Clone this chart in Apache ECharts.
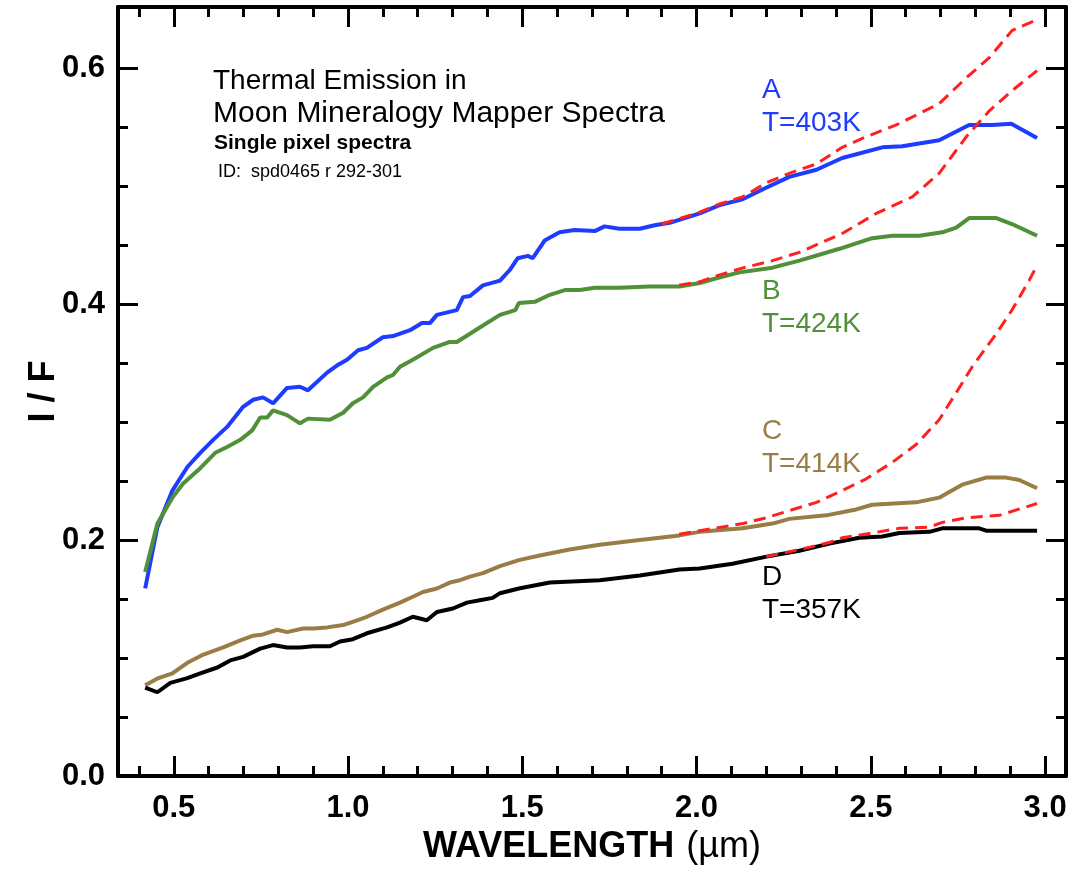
<!DOCTYPE html>
<html>
<head>
<meta charset="utf-8">
<script src="https://cdn.jsdelivr.net/npm/echarts@6/dist/echarts.min.js"></script>
<style>
  html, body { margin: 0; padding: 0; background: #fff; }
  #chart { width: 1076px; height: 877px; }
</style>
</head>
<body>
<div id="chart"></div>
<script>
// tick positions
const xMajor = [0.5, 1.0, 1.5, 2.0, 2.5, 3.0];
const xMinor = [0.4, 0.6, 0.7, 0.8, 0.9, 1.1, 1.2, 1.3, 1.4, 1.6, 1.7, 1.8, 1.9,
                2.1, 2.2, 2.3, 2.4, 2.6, 2.7, 2.8, 2.9];
const yMajor = [0.0, 0.2, 0.4, 0.6];
const yMinor = [0.05, 0.1, 0.15, 0.25, 0.3, 0.35, 0.45, 0.5, 0.55];

// spectra: [wavelength um, I/F]
const specA = [[0.418,0.159],[0.453,0.211],[0.496,0.242],[0.539,0.262],[0.576,0.274],[0.613,0.285],[0.653,0.296],
  [0.699,0.313],[0.728,0.319],[0.756,0.321],[0.785,0.316],[0.825,0.329],[0.862,0.330],[0.885,0.327],[0.940,0.342],
  [0.968,0.348],[0.997,0.353],[1.029,0.361],[1.054,0.363],[1.100,0.372],[1.129,0.373],[1.178,0.378],[1.212,0.384],
  [1.235,0.384],[1.255,0.391],[1.312,0.395],[1.330,0.406],[1.350,0.407],[1.387,0.416],[1.436,0.420],[1.464,0.429],
  [1.487,0.439],[1.516,0.441],[1.530,0.439],[1.564,0.454],[1.607,0.461],[1.650,0.463],[1.708,0.462],[1.736,0.466],
  [1.779,0.464],[1.837,0.464],[1.880,0.467],[1.923,0.469],[1.966,0.473],[2.009,0.477],[2.066,0.484],[2.132,0.489],
  [2.201,0.499],[2.266,0.508],[2.344,0.514],[2.418,0.524],[2.533,0.533],[2.590,0.534],[2.696,0.539],[2.782,0.552],
  [2.848,0.552],[2.903,0.553],[2.977,0.541]];
const specB = [[0.418,0.173],[0.453,0.214],[0.496,0.236],[0.527,0.248],[0.576,0.261],[0.619,0.274],[0.653,0.279],
  [0.691,0.285],[0.725,0.293],[0.748,0.304],[0.768,0.304],[0.785,0.310],[0.825,0.306],[0.862,0.299],[0.885,0.303],
  [0.948,0.302],[0.986,0.308],[1.014,0.316],[1.043,0.321],[1.072,0.330],[1.112,0.338],[1.129,0.340],[1.149,0.347],
  [1.186,0.353],[1.244,0.363],[1.292,0.368],[1.312,0.368],[1.350,0.375],[1.387,0.382],[1.436,0.391],[1.480,0.395],
  [1.490,0.401],[1.536,0.402],[1.579,0.408],[1.622,0.412],[1.665,0.412],[1.708,0.414],[1.779,0.414],[1.865,0.415],
  [1.951,0.415],[2.009,0.418],[2.057,0.422],[2.123,0.427],[2.218,0.431],[2.295,0.437],[2.410,0.447],[2.504,0.456],
  [2.562,0.458],[2.639,0.458],[2.705,0.461],[2.745,0.465],[2.782,0.473],[2.860,0.473],[2.905,0.468],[2.977,0.458]];
const specC = [[0.418,0.077],[0.456,0.083],[0.496,0.087],[0.539,0.096],[0.585,0.103],[0.642,0.109],[0.691,0.115],
  [0.728,0.119],[0.756,0.120],[0.797,0.124],[0.825,0.122],[0.871,0.125],[0.900,0.125],[0.940,0.126],[0.986,0.128],
  [1.026,0.132],[1.054,0.135],[1.100,0.141],[1.149,0.147],[1.186,0.152],[1.215,0.156],[1.255,0.159],[1.292,0.164],
  [1.321,0.166],[1.350,0.169],[1.387,0.172],[1.436,0.178],[1.490,0.183],[1.550,0.187],[1.636,0.192],[1.722,0.196],
  [1.837,0.200],[1.951,0.204],[2.009,0.207],[2.132,0.210],[2.218,0.214],[2.266,0.218],[2.372,0.221],[2.458,0.226],
  [2.504,0.230],[2.630,0.232],[2.696,0.236],[2.762,0.247],[2.831,0.253],[2.888,0.253],[2.926,0.251],[2.977,0.244]];
const specD = [[0.418,0.075],[0.453,0.071],[0.490,0.079],[0.539,0.083],[0.576,0.087],[0.625,0.092],[0.662,0.098],
  [0.699,0.101],[0.748,0.108],[0.785,0.111],[0.825,0.109],[0.862,0.109],[0.900,0.110],[0.948,0.110],[0.977,0.114],
  [1.014,0.116],[1.054,0.121],[1.112,0.126],[1.149,0.130],[1.186,0.135],[1.226,0.132],[1.255,0.139],[1.301,0.142],
  [1.341,0.147],[1.378,0.149],[1.415,0.151],[1.436,0.155],[1.490,0.159],[1.579,0.164],[1.722,0.166],[1.837,0.170],
  [1.951,0.175],[2.009,0.176],[2.103,0.180],[2.201,0.186],[2.295,0.191],[2.381,0.197],[2.467,0.202],[2.533,0.203],
  [2.582,0.206],[2.668,0.207],[2.705,0.210],[2.811,0.210],[2.831,0.208],[2.977,0.208]];

// model fits (red dashed)
const fitA = [[1.900,0.468],[1.966,0.474],[2.009,0.478],[2.066,0.485],[2.132,0.491],[2.201,0.503],[2.266,0.511],
  [2.344,0.519],[2.418,0.533],[2.487,0.542],[2.573,0.552],[2.696,0.570],[2.774,0.592],[2.840,0.609],[2.905,0.632],
  [2.983,0.642]];
const fitB = [[1.950,0.416],[2.009,0.419],[2.057,0.424],[2.123,0.430],[2.218,0.437],[2.295,0.444],[2.418,0.460],
  [2.516,0.477],[2.619,0.491],[2.696,0.511],[2.774,0.542],[2.840,0.564],[2.905,0.581],[2.977,0.598]];
const fitC = [[1.950,0.205],[2.009,0.208],[2.132,0.214],[2.201,0.219],[2.266,0.225],[2.344,0.232],[2.418,0.242],
  [2.487,0.252],[2.562,0.266],[2.630,0.281],[2.696,0.302],[2.745,0.325],[2.791,0.347],[2.860,0.375],[2.905,0.395],
  [2.954,0.420],[2.977,0.433]];
const fitD = [[2.200,0.186],[2.295,0.192],[2.381,0.198],[2.418,0.202],[2.504,0.206],[2.582,0.210],[2.668,0.211],
  [2.705,0.215],[2.774,0.219],[2.868,0.221],[2.977,0.231]];

const labels = [
  { name: 'A', temp: 'T=403K', color: '#1e3cff', y: 90 },
  { name: 'B', temp: 'T=424K', color: '#4f9038', y: 291 },
  { name: 'C', temp: 'T=414K', color: '#9a7d45', y: 431 },
  { name: 'D', temp: 'T=357K', color: '#000000', y: 577 }
];

const X_MIN = 0.34, X_MAX = 3.06, Y_MIN = 0, Y_MAX = 0.652;
const FONT = '"Liberation Sans", Arial, Helvetica, sans-serif';

function xAxisDef(pos, ticks, len, main) {
  return {
    type: 'value', position: pos, min: X_MIN, max: X_MAX,
    axisLine: { show: main, onZero: false, lineStyle: { color: '#000', width: 4 } },
    axisTick: { show: true, inside: true, length: len, customValues: ticks, lineStyle: { color: '#000', width: 3 } },
    axisLabel: { show: false },
    splitLine: { show: false }
  };
}
function yAxisDef(pos, ticks, len, main) {
  return {
    type: 'value', position: pos, min: Y_MIN, max: Y_MAX,
    axisLine: { show: main, onZero: false, lineStyle: { color: '#000', width: 4 } },
    axisTick: { show: true, inside: true, length: len, customValues: ticks, lineStyle: { color: '#000', width: 3 } },
    axisLabel: { show: false },
    splitLine: { show: false }
  };
}

const xAxes = [
  xAxisDef('bottom', xMajor, 20, true),
  xAxisDef('bottom', xMinor, 10, false),
  xAxisDef('top', xMajor, 20, true),
  xAxisDef('top', xMinor, 10, false)
];
Object.assign(xAxes[0], {
  name: '{b|WAVELENGTH}{n|(\u00b5m)}',
  nameLocation: 'middle', nameGap: 50,
  nameTextStyle: {
    rich: {
      b: { fontFamily: FONT, fontWeight: 'bold', fontSize: 36, color: '#000' },
      n: { fontFamily: FONT, fontWeight: 'normal', fontSize: 36, color: '#000', padding: [0, 0, 0, 12] }
    }
  },
  axisLabel: {
    show: true, customValues: xMajor, margin: 17,
    fontFamily: FONT, fontWeight: 'bold', fontSize: 31, color: '#000',
    formatter: v => v.toFixed(1)
  }
});

const yAxes = [
  yAxisDef('left', yMajor, 20, true),
  yAxisDef('left', yMinor, 10, false),
  yAxisDef('right', yMajor, 20, true),
  yAxisDef('right', yMinor, 10, false)
];
Object.assign(yAxes[0], {
  name: 'I / F', nameLocation: 'middle', nameGap: 56, nameRotate: 90, nameMoveOverlap: false,
  nameTextStyle: { fontFamily: FONT, fontWeight: 'bold', fontSize: 36, color: '#000' },
  axisLabel: {
    show: true, customValues: yMajor, margin: 13,
    fontFamily: FONT, fontWeight: 'bold', fontSize: 31, color: '#000',
    formatter: v => v.toFixed(1)
  }
});

function solid(data, color) {
  return { type: 'line', data, showSymbol: false, symbol: 'none', silent: true, z: 2,
           lineStyle: { color, width: 4 } };
}
function dashed(data) {
  return { type: 'line', data, showSymbol: false, symbol: 'none', silent: true, z: 3,
           lineStyle: { color: '#ff2020', width: 3, type: [12, 7] } };
}

function txt(x, y, text, size, color, weight) {
  return { type: 'text', x, y, silent: true, z: 10,
    style: { text, fill: color, font: (weight || 'normal') + ' ' + size + 'px ' + FONT,
             textAlign: 'left', textVerticalAlign: 'middle', align: 'left', verticalAlign: 'middle' } };
}

const graphics = [
  txt(213, 81, 'Thermal Emission in', 28, '#000'),
  txt(213, 114, 'Moon Mineralogy Mapper Spectra', 30, '#000'),
  txt(214, 143, 'Single pixel spectra', 21, '#000', 'bold'),
  txt(218, 172, 'ID:  spd0465 r 292-301', 18, '#000')
];
labels.forEach(l => {
  graphics.push(txt(762, l.y, l.name, 28, l.color));
  graphics.push(txt(762, l.y + 33, l.temp, 28, l.color));
});

const chart = echarts.init(document.getElementById('chart'));
chart.setOption({
  backgroundColor: '#fff',
  animation: false,
  grid: { left: 118, right: 10, top: 7, bottom: 101, containLabel: false, outerBoundsMode: 'none' },
  xAxis: xAxes,
  yAxis: yAxes,
  series: [
    solid(specA, labels[0].color),
    solid(specB, labels[1].color),
    solid(specC, labels[2].color),
    solid(specD, labels[3].color),
    dashed(fitA), dashed(fitB), dashed(fitC), dashed(fitD)
  ],
  graphic: graphics
});
</script>
</body>
</html>
